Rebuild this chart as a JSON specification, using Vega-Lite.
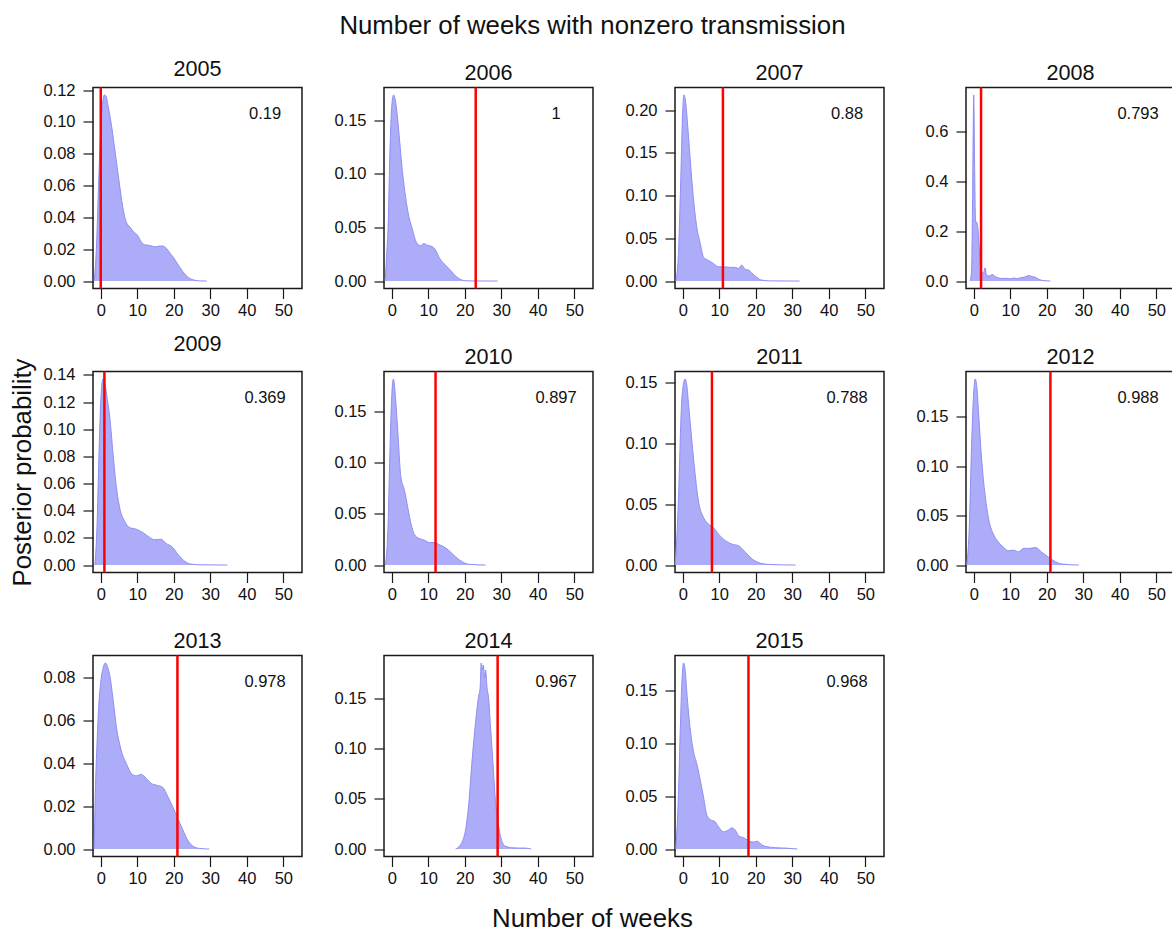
{
  "$schema": "https://vega.github.io/schema/vega-lite/v6.json",
  "padding": {"left": 9, "top": 12.5, "right": 0, "bottom": 0},
  "background": "white",
  "datasets": {
    "dens": [
      {"year":2005,"w":-1.8,"p":0},{"year":2005,"w":-1.2,"p":0.02},{"year":2005,"w":-0.6,"p":0.06},{"year":2005,"w":0,"p":0.095},{"year":2005,"w":0.5,"p":0.112},{"year":2005,"w":1,"p":0.117},{"year":2005,"w":1.5,"p":0.116},{"year":2005,"w":2,"p":0.11},{"year":2005,"w":3,"p":0.097},{"year":2005,"w":4,"p":0.08},{"year":2005,"w":5,"p":0.063},{"year":2005,"w":6,"p":0.047},{"year":2005,"w":7,"p":0.037},{"year":2005,"w":8,"p":0.034},{"year":2005,"w":9,"p":0.031},{"year":2005,"w":10,"p":0.029},{"year":2005,"w":11,"p":0.025},{"year":2005,"w":12,"p":0.0228},{"year":2005,"w":13,"p":0.0225},{"year":2005,"w":14,"p":0.022},{"year":2005,"w":15,"p":0.0215},{"year":2005,"w":16,"p":0.022},{"year":2005,"w":17,"p":0.022},{"year":2005,"w":18,"p":0.0205},{"year":2005,"w":19,"p":0.0175},{"year":2005,"w":20,"p":0.0145},{"year":2005,"w":21,"p":0.011},{"year":2005,"w":22,"p":0.0075},{"year":2005,"w":23,"p":0.0045},{"year":2005,"w":24,"p":0.0022},{"year":2005,"w":25,"p":0.001},{"year":2005,"w":26,"p":0.0004},{"year":2005,"w":27,"p":0.0001},{"year":2005,"w":29,"p":0},
      {"year":2006,"w":-1.8,"p":0},{"year":2006,"w":-1.3,"p":0.03},{"year":2006,"w":-1,"p":0.05},{"year":2006,"w":-0.5,"p":0.12},{"year":2006,"w":0,"p":0.163},{"year":2006,"w":0.5,"p":0.1735},{"year":2006,"w":1,"p":0.168},{"year":2006,"w":1.5,"p":0.155},{"year":2006,"w":2,"p":0.137},{"year":2006,"w":2.9,"p":0.103},{"year":2006,"w":3.8,"p":0.078},{"year":2006,"w":4.7,"p":0.06},{"year":2006,"w":5.6,"p":0.049},{"year":2006,"w":6.3,"p":0.04},{"year":2006,"w":7,"p":0.035},{"year":2006,"w":7.9,"p":0.033},{"year":2006,"w":8.8,"p":0.035},{"year":2006,"w":9.7,"p":0.0335},{"year":2006,"w":11.1,"p":0.032},{"year":2006,"w":12,"p":0.029},{"year":2006,"w":12.9,"p":0.0225},{"year":2006,"w":13.8,"p":0.018},{"year":2006,"w":14.7,"p":0.015},{"year":2006,"w":16.1,"p":0.01},{"year":2006,"w":17.5,"p":0.0046},{"year":2006,"w":18.8,"p":0.0015},{"year":2006,"w":20.2,"p":0.0003},{"year":2006,"w":22,"p":0.0001},{"year":2006,"w":29,"p":0},
      {"year":2007,"w":-1.9,"p":0},{"year":2007,"w":-1.2,"p":0.03},{"year":2007,"w":-0.6,"p":0.11},{"year":2007,"w":0,"p":0.2},{"year":2007,"w":0.3,"p":0.218},{"year":2007,"w":0.8,"p":0.21},{"year":2007,"w":1.3,"p":0.185},{"year":2007,"w":2,"p":0.145},{"year":2007,"w":2.9,"p":0.098},{"year":2007,"w":3.85,"p":0.063},{"year":2007,"w":4.8,"p":0.044},{"year":2007,"w":5.7,"p":0.028},{"year":2007,"w":7.1,"p":0.024},{"year":2007,"w":8.4,"p":0.0205},{"year":2007,"w":9.8,"p":0.0167},{"year":2007,"w":11.2,"p":0.0167},{"year":2007,"w":13,"p":0.016},{"year":2007,"w":14.4,"p":0.016},{"year":2007,"w":15.3,"p":0.0147},{"year":2007,"w":16.1,"p":0.0186},{"year":2007,"w":17.2,"p":0.0136},{"year":2007,"w":18.1,"p":0.0128},{"year":2007,"w":19,"p":0.009},{"year":2007,"w":20.4,"p":0.004},{"year":2007,"w":21.7,"p":0.001},{"year":2007,"w":24,"p":0.0002},{"year":2007,"w":32,"p":0},
      {"year":2008,"w":-1,"p":0},{"year":2008,"w":-0.6,"p":0.04},{"year":2008,"w":-0.3,"p":0.35},{"year":2008,"w":0,"p":0.745},{"year":2008,"w":0.25,"p":0.45},{"year":2008,"w":0.5,"p":0.235},{"year":2008,"w":0.8,"p":0.236},{"year":2008,"w":1.2,"p":0.2},{"year":2008,"w":1.5,"p":0.13},{"year":2008,"w":1.8,"p":0.075},{"year":2008,"w":2.2,"p":0.035},{"year":2008,"w":2.5,"p":0.03},{"year":2008,"w":2.8,"p":0.037},{"year":2008,"w":3.1,"p":0.053},{"year":2008,"w":3.5,"p":0.024},{"year":2008,"w":4.2,"p":0.02},{"year":2008,"w":5.1,"p":0.026},{"year":2008,"w":6,"p":0.017},{"year":2008,"w":7,"p":0.012},{"year":2008,"w":8,"p":0.01},{"year":2008,"w":9,"p":0.011},{"year":2008,"w":10,"p":0.009},{"year":2008,"w":11,"p":0.012},{"year":2008,"w":12,"p":0.01},{"year":2008,"w":13,"p":0.014},{"year":2008,"w":14,"p":0.016},{"year":2008,"w":15.1,"p":0.022},{"year":2008,"w":16,"p":0.018},{"year":2008,"w":16.9,"p":0.015},{"year":2008,"w":17.8,"p":0.007},{"year":2008,"w":19,"p":0.002},{"year":2008,"w":21,"p":0},
      {"year":2009,"w":-1.6,"p":0},{"year":2009,"w":-1,"p":0.03},{"year":2009,"w":-0.5,"p":0.08},{"year":2009,"w":0,"p":0.12},{"year":2009,"w":0.6,"p":0.137},{"year":2009,"w":1.2,"p":0.133},{"year":2009,"w":1.8,"p":0.122},{"year":2009,"w":2.5,"p":0.108},{"year":2009,"w":3.4,"p":0.081},{"year":2009,"w":4.3,"p":0.057},{"year":2009,"w":5.2,"p":0.042},{"year":2009,"w":6.5,"p":0.0325},{"year":2009,"w":7.9,"p":0.0276},{"year":2009,"w":9.7,"p":0.0264},{"year":2009,"w":11.5,"p":0.024},{"year":2009,"w":13.4,"p":0.0203},{"year":2009,"w":14.7,"p":0.0186},{"year":2009,"w":16.5,"p":0.019},{"year":2009,"w":17.9,"p":0.0159},{"year":2009,"w":19.7,"p":0.013},{"year":2009,"w":21.1,"p":0.008},{"year":2009,"w":22.9,"p":0.003},{"year":2009,"w":24.7,"p":0.0007},{"year":2009,"w":27,"p":0.0002},{"year":2009,"w":34.7,"p":0},
      {"year":2010,"w":-1.7,"p":0},{"year":2010,"w":-1,"p":0.04},{"year":2010,"w":-0.5,"p":0.11},{"year":2010,"w":0,"p":0.165},{"year":2010,"w":0.45,"p":0.182},{"year":2010,"w":1,"p":0.165},{"year":2010,"w":1.6,"p":0.134},{"year":2010,"w":2.5,"p":0.086},{"year":2010,"w":3.5,"p":0.073},{"year":2010,"w":4.4,"p":0.056},{"year":2010,"w":5.3,"p":0.04},{"year":2010,"w":6.2,"p":0.03},{"year":2010,"w":7.5,"p":0.026},{"year":2010,"w":8.9,"p":0.0244},{"year":2010,"w":10.3,"p":0.022},{"year":2010,"w":11.6,"p":0.022},{"year":2010,"w":13,"p":0.02},{"year":2010,"w":14.8,"p":0.0166},{"year":2010,"w":16.2,"p":0.0124},{"year":2010,"w":17.5,"p":0.008},{"year":2010,"w":19.4,"p":0.003},{"year":2010,"w":21.2,"p":0.0007},{"year":2010,"w":25.7,"p":0},
      {"year":2011,"w":-2.1,"p":0},{"year":2011,"w":-1.5,"p":0.03},{"year":2011,"w":-1,"p":0.07},{"year":2011,"w":-0.5,"p":0.12},{"year":2011,"w":0,"p":0.145},{"year":2011,"w":0.65,"p":0.153},{"year":2011,"w":1.1,"p":0.148},{"year":2011,"w":1.6,"p":0.132},{"year":2011,"w":2.5,"p":0.102},{"year":2011,"w":3.4,"p":0.0745},{"year":2011,"w":4.3,"p":0.0526},{"year":2011,"w":5.7,"p":0.039},{"year":2011,"w":7.1,"p":0.0335},{"year":2011,"w":8.4,"p":0.0308},{"year":2011,"w":9.8,"p":0.0254},{"year":2011,"w":11.7,"p":0.02},{"year":2011,"w":13.5,"p":0.0172},{"year":2011,"w":15.3,"p":0.0158},{"year":2011,"w":17.2,"p":0.0104},{"year":2011,"w":19,"p":0.005},{"year":2011,"w":20.8,"p":0.002},{"year":2011,"w":23.6,"p":0.0005},{"year":2011,"w":30.9,"p":0},
      {"year":2012,"w":-1.9,"p":0},{"year":2012,"w":-1.2,"p":0.04},{"year":2012,"w":-0.6,"p":0.12},{"year":2012,"w":0,"p":0.175},{"year":2012,"w":0.4,"p":0.188},{"year":2012,"w":0.9,"p":0.178},{"year":2012,"w":1.3,"p":0.155},{"year":2012,"w":2.2,"p":0.105},{"year":2012,"w":3.1,"p":0.071},{"year":2012,"w":4,"p":0.048},{"year":2012,"w":5.4,"p":0.031},{"year":2012,"w":6.8,"p":0.023},{"year":2012,"w":8.2,"p":0.0177},{"year":2012,"w":9.5,"p":0.0144},{"year":2012,"w":10.9,"p":0.015},{"year":2012,"w":12.3,"p":0.0134},{"year":2012,"w":13.7,"p":0.017},{"year":2012,"w":15,"p":0.0167},{"year":2012,"w":16.9,"p":0.0177},{"year":2012,"w":18.7,"p":0.0127},{"year":2012,"w":20.6,"p":0.0077},{"year":2012,"w":22.4,"p":0.0033},{"year":2012,"w":24.2,"p":0.001},{"year":2012,"w":28.8,"p":0},
      {"year":2013,"w":-1.8,"p":0},{"year":2013,"w":-1.5,"p":0.025},{"year":2013,"w":-1,"p":0.05},{"year":2013,"w":-0.5,"p":0.068},{"year":2013,"w":0,"p":0.078},{"year":2013,"w":0.7,"p":0.085},{"year":2013,"w":1.3,"p":0.087},{"year":2013,"w":2,"p":0.0845},{"year":2013,"w":2.5,"p":0.081},{"year":2013,"w":3.4,"p":0.0696},{"year":2013,"w":4.3,"p":0.057},{"year":2013,"w":5.6,"p":0.0462},{"year":2013,"w":7,"p":0.04},{"year":2013,"w":8.4,"p":0.0353},{"year":2013,"w":9.7,"p":0.0342},{"year":2013,"w":11.1,"p":0.0349},{"year":2013,"w":12.5,"p":0.033},{"year":2013,"w":13.8,"p":0.0307},{"year":2013,"w":15.2,"p":0.0299},{"year":2013,"w":17,"p":0.0288},{"year":2013,"w":18.4,"p":0.0244},{"year":2013,"w":19.7,"p":0.0198},{"year":2013,"w":21.1,"p":0.0143},{"year":2013,"w":22.5,"p":0.0089},{"year":2013,"w":23.8,"p":0.0042},{"year":2013,"w":25.2,"p":0.0014},{"year":2013,"w":27,"p":0.0003},{"year":2013,"w":29.7,"p":0},
      {"year":2014,"w":17.5,"p":0},{"year":2014,"w":18.4,"p":0.0023},{"year":2014,"w":19.3,"p":0.0073},{"year":2014,"w":20.2,"p":0.0188},{"year":2014,"w":21.1,"p":0.045},{"year":2014,"w":22,"p":0.088},{"year":2014,"w":22.9,"p":0.124},{"year":2014,"w":23.8,"p":0.152},{"year":2014,"w":24.2,"p":0.16},{"year":2014,"w":24.5,"p":0.185},{"year":2014,"w":24.8,"p":0.178},{"year":2014,"w":25.1,"p":0.183},{"year":2014,"w":25.4,"p":0.17},{"year":2014,"w":25.7,"p":0.178},{"year":2014,"w":26.1,"p":0.16},{"year":2014,"w":26.5,"p":0.151},{"year":2014,"w":27,"p":0.124},{"year":2014,"w":27.5,"p":0.098},{"year":2014,"w":28.4,"p":0.048},{"year":2014,"w":29.3,"p":0.022},{"year":2014,"w":30.2,"p":0.0073},{"year":2014,"w":31.1,"p":0.003},{"year":2014,"w":32.9,"p":0.0013},{"year":2014,"w":34.7,"p":0.001},{"year":2014,"w":36.5,"p":0.001},{"year":2014,"w":38.2,"p":0},
      {"year":2015,"w":-1.9,"p":0},{"year":2015,"w":-1.3,"p":0.04},{"year":2015,"w":-0.7,"p":0.11},{"year":2015,"w":-0.2,"p":0.16},{"year":2015,"w":0.2,"p":0.176},{"year":2015,"w":0.7,"p":0.168},{"year":2015,"w":1.1,"p":0.149},{"year":2015,"w":2,"p":0.115},{"year":2015,"w":2.9,"p":0.093},{"year":2015,"w":3.9,"p":0.08},{"year":2015,"w":4.8,"p":0.065},{"year":2015,"w":5.7,"p":0.049},{"year":2015,"w":6.6,"p":0.032},{"year":2015,"w":7.5,"p":0.028},{"year":2015,"w":8.9,"p":0.0257},{"year":2015,"w":9.8,"p":0.021},{"year":2015,"w":11.2,"p":0.0163},{"year":2015,"w":12.1,"p":0.0172},{"year":2015,"w":13.5,"p":0.02},{"year":2015,"w":14.4,"p":0.0179},{"year":2015,"w":15.3,"p":0.0125},{"year":2015,"w":16.7,"p":0.0106},{"year":2015,"w":18.1,"p":0.0078},{"year":2015,"w":19.4,"p":0.0066},{"year":2015,"w":20.4,"p":0.0075},{"year":2015,"w":21.7,"p":0.0038},{"year":2015,"w":23.1,"p":0.0022},{"year":2015,"w":25.4,"p":0.0013},{"year":2015,"w":28.2,"p":0.0009},{"year":2015,"w":31.4,"p":0}
    ],
    "obs": [
      {"year":2005,"observed":0,"prob":"0.19"},
      {"year":2006,"observed":23,"prob":"1"},
      {"year":2007,"observed":11,"prob":"0.88"},
      {"year":2008,"observed":2,"prob":"0.793"},
      {"year":2009,"observed":1,"prob":"0.369"},
      {"year":2010,"observed":12,"prob":"0.897"},
      {"year":2011,"observed":8,"prob":"0.788"},
      {"year":2012,"observed":21,"prob":"0.988"},
      {"year":2013,"observed":21,"prob":"0.978"},
      {"year":2014,"observed":29,"prob":"0.967"},
      {"year":2015,"observed":18,"prob":"0.968"}
    ]
  },
  "title": {"text": "Number of weeks with nonzero transmission", "fontSize": 25.8, "anchor": "middle", "offset": 18.5},
  "vconcat": [
    {
      "title": {"text": "Number of weeks", "orient": "bottom", "fontSize": 25.8, "anchor": "middle", "offset": 19},
      "columns": 4,
      "bounds": "flush",
      "spacing": {"row": 83, "column": 82},
      "concat": [
        {"title": "2005", "width": 209, "height": 201, "layer": [
          {"data": {"name": "dens"}, "transform": [{"filter": "datum.year == 2005"}], "mark": {"type": "area", "interpolate": "monotone", "color": "#acacf9", "opacity": 1, "line": {"color": "#8e8ef4", "strokeWidth": 1}},
           "encoding": {"x": {"field": "w", "type": "quantitative", "scale": {"domain": [-2.12, 55.12], "nice": false, "zero": false}, "axis": {"title": null, "values": [0,10,20,30,40,50], "tickCount": 20}},
                        "y": {"field": "p", "type": "quantitative", "scale": {"domain": [-0.00468, 0.12168], "nice": false, "zero": false}, "axis": {"title": null, "values": [0,0.02,0.04,0.06,0.08,0.1,0.12], "format": ".2f", "tickCount": 20}}}},
          {"mark": {"type": "rule", "color": "#ebebeb"}, "encoding": {"y": {"datum": 0}}},
          {"data": {"name": "obs"}, "transform": [{"filter": "datum.year == 2005"}], "mark": {"type": "rule", "color": "#ff0000", "strokeWidth": 2.5}, "encoding": {"x": {"field": "observed", "type": "quantitative"}}},
          {"data": {"name": "obs"}, "transform": [{"filter": "datum.year == 2005"}], "mark": {"type": "text", "fontSize": 16.5, "align": "center", "baseline": "middle"}, "encoding": {"x": {"datum": 45}, "y": {"datum": 0.1053}, "text": {"field": "prob"}}}
        ]},
        {"title": "2006", "width": 209, "height": 201, "layer": [
          {"data": {"name": "dens"}, "transform": [{"filter": "datum.year == 2006"}], "mark": {"type": "area", "interpolate": "monotone", "color": "#acacf9", "opacity": 1, "line": {"color": "#8e8ef4", "strokeWidth": 1}},
           "encoding": {"x": {"field": "w", "type": "quantitative", "scale": {"domain": [-2.12, 55.12], "nice": false, "zero": false}, "axis": {"title": null, "values": [0,10,20,30,40,50], "tickCount": 20}},
                        "y": {"field": "p", "type": "quantitative", "scale": {"domain": [-0.00694, 0.18044], "nice": false, "zero": false}, "axis": {"title": null, "values": [0,0.05,0.1,0.15], "format": ".2f", "tickCount": 20}}}},
          {"mark": {"type": "rule", "color": "#ebebeb"}, "encoding": {"y": {"datum": 0}}},
          {"data": {"name": "obs"}, "transform": [{"filter": "datum.year == 2006"}], "mark": {"type": "rule", "color": "#ff0000", "strokeWidth": 2.5}, "encoding": {"x": {"field": "observed", "type": "quantitative"}}},
          {"data": {"name": "obs"}, "transform": [{"filter": "datum.year == 2006"}], "mark": {"type": "text", "fontSize": 16.5, "align": "center", "baseline": "middle"}, "encoding": {"x": {"datum": 45}, "y": {"datum": 0.1562}, "text": {"field": "prob"}}}
        ]},
        {"title": "2007", "width": 209, "height": 201, "layer": [
          {"data": {"name": "dens"}, "transform": [{"filter": "datum.year == 2007"}], "mark": {"type": "area", "interpolate": "monotone", "color": "#acacf9", "opacity": 1, "line": {"color": "#8e8ef4", "strokeWidth": 1}},
           "encoding": {"x": {"field": "w", "type": "quantitative", "scale": {"domain": [-2.12, 55.12], "nice": false, "zero": false}, "axis": {"title": null, "values": [0,10,20,30,40,50], "tickCount": 20}},
                        "y": {"field": "p", "type": "quantitative", "scale": {"domain": [-0.00872, 0.22672], "nice": false, "zero": false}, "axis": {"title": null, "values": [0,0.05,0.1,0.15,0.2], "format": ".2f", "tickCount": 20}}}},
          {"mark": {"type": "rule", "color": "#ebebeb"}, "encoding": {"y": {"datum": 0}}},
          {"data": {"name": "obs"}, "transform": [{"filter": "datum.year == 2007"}], "mark": {"type": "rule", "color": "#ff0000", "strokeWidth": 2.5}, "encoding": {"x": {"field": "observed", "type": "quantitative"}}},
          {"data": {"name": "obs"}, "transform": [{"filter": "datum.year == 2007"}], "mark": {"type": "text", "fontSize": 16.5, "align": "center", "baseline": "middle"}, "encoding": {"x": {"datum": 45}, "y": {"datum": 0.1962}, "text": {"field": "prob"}}}
        ]},
        {"title": "2008", "width": 209, "height": 201, "layer": [
          {"data": {"name": "dens"}, "transform": [{"filter": "datum.year == 2008"}], "mark": {"type": "area", "interpolate": "monotone", "color": "#acacf9", "opacity": 1, "line": {"color": "#8e8ef4", "strokeWidth": 1}},
           "encoding": {"x": {"field": "w", "type": "quantitative", "scale": {"domain": [-2.12, 55.12], "nice": false, "zero": false}, "axis": {"title": null, "values": [0,10,20,30,40,50], "tickCount": 20}},
                        "y": {"field": "p", "type": "quantitative", "scale": {"domain": [-0.0298, 0.7748], "nice": false, "zero": false}, "axis": {"title": null, "values": [0,0.2,0.4,0.6], "format": ".1f", "tickCount": 20}}}},
          {"mark": {"type": "rule", "color": "#ebebeb"}, "encoding": {"y": {"datum": 0}}},
          {"data": {"name": "obs"}, "transform": [{"filter": "datum.year == 2008"}], "mark": {"type": "rule", "color": "#ff0000", "strokeWidth": 2.5}, "encoding": {"x": {"field": "observed", "type": "quantitative"}}},
          {"data": {"name": "obs"}, "transform": [{"filter": "datum.year == 2008"}], "mark": {"type": "text", "fontSize": 16.5, "align": "center", "baseline": "middle"}, "encoding": {"x": {"datum": 45}, "y": {"datum": 0.6705}, "text": {"field": "prob"}}}
        ]},
        {"title": "2009", "width": 209, "height": 201, "layer": [
          {"data": {"name": "dens"}, "transform": [{"filter": "datum.year == 2009"}], "mark": {"type": "area", "interpolate": "monotone", "color": "#acacf9", "opacity": 1, "line": {"color": "#8e8ef4", "strokeWidth": 1}},
           "encoding": {"x": {"field": "w", "type": "quantitative", "scale": {"domain": [-2.12, 55.12], "nice": false, "zero": false}, "axis": {"title": null, "values": [0,10,20,30,40,50], "tickCount": 20}},
                        "y": {"field": "p", "type": "quantitative", "scale": {"domain": [-0.00548, 0.14248], "nice": false, "zero": false}, "axis": {"title": "Posterior probability", "titleFontSize": 25.8, "titleFontWeight": "normal", "titlePadding": 7, "values": [0,0.02,0.04,0.06,0.08,0.1,0.12,0.14], "format": ".2f", "tickCount": 20}}}},
          {"mark": {"type": "rule", "color": "#ebebeb"}, "encoding": {"y": {"datum": 0}}},
          {"data": {"name": "obs"}, "transform": [{"filter": "datum.year == 2009"}], "mark": {"type": "rule", "color": "#ff0000", "strokeWidth": 2.5}, "encoding": {"x": {"field": "observed", "type": "quantitative"}}},
          {"data": {"name": "obs"}, "transform": [{"filter": "datum.year == 2009"}], "mark": {"type": "text", "fontSize": 16.5, "align": "center", "baseline": "middle"}, "encoding": {"x": {"datum": 45}, "y": {"datum": 0.1233}, "text": {"field": "prob"}}}
        ]},
        {"title": "2010", "width": 209, "height": 201, "layer": [
          {"data": {"name": "dens"}, "transform": [{"filter": "datum.year == 2010"}], "mark": {"type": "area", "interpolate": "monotone", "color": "#acacf9", "opacity": 1, "line": {"color": "#8e8ef4", "strokeWidth": 1}},
           "encoding": {"x": {"field": "w", "type": "quantitative", "scale": {"domain": [-2.12, 55.12], "nice": false, "zero": false}, "axis": {"title": null, "values": [0,10,20,30,40,50], "tickCount": 20}},
                        "y": {"field": "p", "type": "quantitative", "scale": {"domain": [-0.00728, 0.18928], "nice": false, "zero": false}, "axis": {"title": null, "values": [0,0.05,0.1,0.15], "format": ".2f", "tickCount": 20}}}},
          {"mark": {"type": "rule", "color": "#ebebeb"}, "encoding": {"y": {"datum": 0}}},
          {"data": {"name": "obs"}, "transform": [{"filter": "datum.year == 2010"}], "mark": {"type": "rule", "color": "#ff0000", "strokeWidth": 2.5}, "encoding": {"x": {"field": "observed", "type": "quantitative"}}},
          {"data": {"name": "obs"}, "transform": [{"filter": "datum.year == 2010"}], "mark": {"type": "text", "fontSize": 16.5, "align": "center", "baseline": "middle"}, "encoding": {"x": {"datum": 45}, "y": {"datum": 0.1638}, "text": {"field": "prob"}}}
        ]},
        {"title": "2011", "width": 209, "height": 201, "layer": [
          {"data": {"name": "dens"}, "transform": [{"filter": "datum.year == 2011"}], "mark": {"type": "area", "interpolate": "monotone", "color": "#acacf9", "opacity": 1, "line": {"color": "#8e8ef4", "strokeWidth": 1}},
           "encoding": {"x": {"field": "w", "type": "quantitative", "scale": {"domain": [-2.12, 55.12], "nice": false, "zero": false}, "axis": {"title": null, "values": [0,10,20,30,40,50], "tickCount": 20}},
                        "y": {"field": "p", "type": "quantitative", "scale": {"domain": [-0.00612, 0.15912], "nice": false, "zero": false}, "axis": {"title": null, "values": [0,0.05,0.1,0.15], "format": ".2f", "tickCount": 20}}}},
          {"mark": {"type": "rule", "color": "#ebebeb"}, "encoding": {"y": {"datum": 0}}},
          {"data": {"name": "obs"}, "transform": [{"filter": "datum.year == 2011"}], "mark": {"type": "rule", "color": "#ff0000", "strokeWidth": 2.5}, "encoding": {"x": {"field": "observed", "type": "quantitative"}}},
          {"data": {"name": "obs"}, "transform": [{"filter": "datum.year == 2011"}], "mark": {"type": "text", "fontSize": 16.5, "align": "center", "baseline": "middle"}, "encoding": {"x": {"datum": 45}, "y": {"datum": 0.1377}, "text": {"field": "prob"}}}
        ]},
        {"title": "2012", "width": 209, "height": 201, "layer": [
          {"data": {"name": "dens"}, "transform": [{"filter": "datum.year == 2012"}], "mark": {"type": "area", "interpolate": "monotone", "color": "#acacf9", "opacity": 1, "line": {"color": "#8e8ef4", "strokeWidth": 1}},
           "encoding": {"x": {"field": "w", "type": "quantitative", "scale": {"domain": [-2.12, 55.12], "nice": false, "zero": false}, "axis": {"title": null, "values": [0,10,20,30,40,50], "tickCount": 20}},
                        "y": {"field": "p", "type": "quantitative", "scale": {"domain": [-0.00752, 0.19552], "nice": false, "zero": false}, "axis": {"title": null, "values": [0,0.05,0.1,0.15], "format": ".2f", "tickCount": 20}}}},
          {"mark": {"type": "rule", "color": "#ebebeb"}, "encoding": {"y": {"datum": 0}}},
          {"data": {"name": "obs"}, "transform": [{"filter": "datum.year == 2012"}], "mark": {"type": "rule", "color": "#ff0000", "strokeWidth": 2.5}, "encoding": {"x": {"field": "observed", "type": "quantitative"}}},
          {"data": {"name": "obs"}, "transform": [{"filter": "datum.year == 2012"}], "mark": {"type": "text", "fontSize": 16.5, "align": "center", "baseline": "middle"}, "encoding": {"x": {"datum": 45}, "y": {"datum": 0.1692}, "text": {"field": "prob"}}}
        ]},
        {"title": "2013", "width": 209, "height": 201, "layer": [
          {"data": {"name": "dens"}, "transform": [{"filter": "datum.year == 2013"}], "mark": {"type": "area", "interpolate": "monotone", "color": "#acacf9", "opacity": 1, "line": {"color": "#8e8ef4", "strokeWidth": 1}},
           "encoding": {"x": {"field": "w", "type": "quantitative", "scale": {"domain": [-2.12, 55.12], "nice": false, "zero": false}, "axis": {"title": null, "values": [0,10,20,30,40,50], "tickCount": 20}},
                        "y": {"field": "p", "type": "quantitative", "scale": {"domain": [-0.00348, 0.09048], "nice": false, "zero": false}, "axis": {"title": null, "values": [0,0.02,0.04,0.06,0.08], "format": ".2f", "tickCount": 20}}}},
          {"mark": {"type": "rule", "color": "#ebebeb"}, "encoding": {"y": {"datum": 0}}},
          {"data": {"name": "obs"}, "transform": [{"filter": "datum.year == 2013"}], "mark": {"type": "rule", "color": "#ff0000", "strokeWidth": 2.5}, "encoding": {"x": {"field": "observed", "type": "quantitative"}}},
          {"data": {"name": "obs"}, "transform": [{"filter": "datum.year == 2013"}], "mark": {"type": "text", "fontSize": 16.5, "align": "center", "baseline": "middle"}, "encoding": {"x": {"datum": 45}, "y": {"datum": 0.0783}, "text": {"field": "prob"}}}
        ]},
        {"title": "2014", "width": 209, "height": 201, "layer": [
          {"data": {"name": "dens"}, "transform": [{"filter": "datum.year == 2014"}], "mark": {"type": "area", "interpolate": "monotone", "color": "#acacf9", "opacity": 1, "line": {"color": "#8e8ef4", "strokeWidth": 1}},
           "encoding": {"x": {"field": "w", "type": "quantitative", "scale": {"domain": [-2.12, 55.12], "nice": false, "zero": false}, "axis": {"title": null, "values": [0,10,20,30,40,50], "tickCount": 20}},
                        "y": {"field": "p", "type": "quantitative", "scale": {"domain": [-0.0074, 0.1924], "nice": false, "zero": false}, "axis": {"title": null, "values": [0,0.05,0.1,0.15], "format": ".2f", "tickCount": 20}}}},
          {"mark": {"type": "rule", "color": "#ebebeb"}, "encoding": {"y": {"datum": 0}}},
          {"data": {"name": "obs"}, "transform": [{"filter": "datum.year == 2014"}], "mark": {"type": "rule", "color": "#ff0000", "strokeWidth": 2.5}, "encoding": {"x": {"field": "observed", "type": "quantitative"}}},
          {"data": {"name": "obs"}, "transform": [{"filter": "datum.year == 2014"}], "mark": {"type": "text", "fontSize": 16.5, "align": "center", "baseline": "middle"}, "encoding": {"x": {"datum": 45}, "y": {"datum": 0.1665}, "text": {"field": "prob"}}}
        ]},
        {"title": "2015", "width": 209, "height": 201, "layer": [
          {"data": {"name": "dens"}, "transform": [{"filter": "datum.year == 2015"}], "mark": {"type": "area", "interpolate": "monotone", "color": "#acacf9", "opacity": 1, "line": {"color": "#8e8ef4", "strokeWidth": 1}},
           "encoding": {"x": {"field": "w", "type": "quantitative", "scale": {"domain": [-2.12, 55.12], "nice": false, "zero": false}, "axis": {"title": null, "values": [0,10,20,30,40,50], "tickCount": 20}},
                        "y": {"field": "p", "type": "quantitative", "scale": {"domain": [-0.00704, 0.18304], "nice": false, "zero": false}, "axis": {"title": null, "values": [0,0.05,0.1,0.15], "format": ".2f", "tickCount": 20}}}},
          {"mark": {"type": "rule", "color": "#ebebeb"}, "encoding": {"y": {"datum": 0}}},
          {"data": {"name": "obs"}, "transform": [{"filter": "datum.year == 2015"}], "mark": {"type": "rule", "color": "#ff0000", "strokeWidth": 2.5}, "encoding": {"x": {"field": "observed", "type": "quantitative"}}},
          {"data": {"name": "obs"}, "transform": [{"filter": "datum.year == 2015"}], "mark": {"type": "text", "fontSize": 16.5, "align": "center", "baseline": "middle"}, "encoding": {"x": {"datum": 45}, "y": {"datum": 0.1584}, "text": {"field": "prob"}}}
        ]}
      ]
    }
  ],
  "config": {
    "font": "Liberation Sans",
    "view": {"stroke": "#1a1a1a", "strokeWidth": 1.5},
    "axis": {"domain": false, "grid": false, "tickColor": "#1a1a1a", "tickSize": 10, "tickWidth": 1.2, "tickCount": 20, "labelFontSize": 16.5, "labelColor": "#111", "labelFont": "Liberation Sans", "labelOverlap": false, "labelFlush": false, "titleColor": "#111", "titleFont": "Liberation Sans"},
    "axisX": {"labelPadding": 4},
    "axisY": {"labelPadding": 8},
    "title": {"font": "Liberation Sans", "fontWeight": "normal", "fontSize": 21.6, "color": "#111", "offset": 2},
    "text": {"font": "Liberation Sans", "color": "#111"}
  }
}
